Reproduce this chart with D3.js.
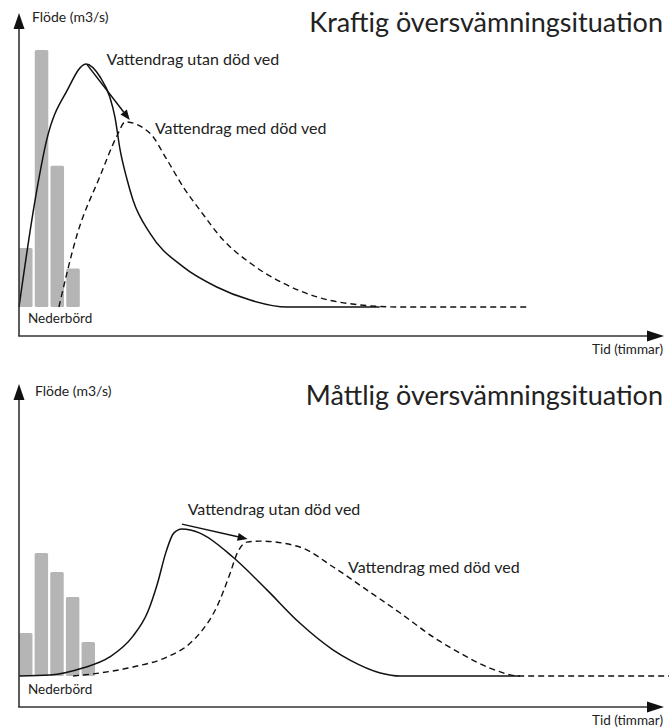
<!DOCTYPE html>
<html>
<head>
<meta charset="utf-8">
<script src="https://cdn.jsdelivr.net/npm/d3@7"></script>
<style>
  body { margin: 0; background: #fff; }
  text { font-family: Lato, "Open Sans", sans-serif; fill: #222; }
</style>
</head>
<body>
<div id="chart"></div>
<script>
// Precipitation bars (relative units), one per hour
const rainStrong = [23, 100, 55, 15];
const rainModerate = [16.7, 47.9, 40.5, 30.7, 13.2];

// Flow curves, [time, flow] in relative units
const strongWithout = [[0,0],[2.5,41.6],[4.3,65],[7.5,84.4],[10.4,94.6],[12.6,89.5],[14.1,81.7],[14.9,73.9],[15.7,61.1],[16.8,49.4],[17.7,41.6],[20.3,28.8],[25.5,15.6],[30.7,7.8],[35.9,2.7],[41.6,0],[56,0]];
const strongWith = [[6.2,0],[9.0,28],[12.6,51],[15.2,66.5],[16.5,72.0],[20.3,67.7],[23.0,57.2],[25.5,46.7],[28.1,37.7],[31.7,26.1],[35.9,17.1],[41.0,9.3],[46.3,3.9],[53.0,0.8],[59.2,0],[79.3,0]];
const modWithout = [[0,0],[4.8,0.4],[9.9,3.1],[14.1,7.4],[17.7,15.5],[20.0,25],[21.5,36],[22.8,48],[24.0,55.5],[25.3,57.2],[28.1,55.6],[33.2,46.3],[38.5,33.5],[43.6,20.6],[48.8,10.1],[51.4,6.2],[56.1,1.2],[59.2,0],[77.8,0]];
const modWith = [[8.4,0],[12.6,1.2],[17.7,3.5],[23.0,7.4],[26.6,12.8],[28.1,16.7],[30.7,26.8],[32.8,40.1],[33.9,47.9],[35.4,52.1],[37.4,52.5],[43.6,50.2],[48.8,42.4],[54.0,33.5],[59.2,24.5],[64.3,15.2],[68.5,8.9],[73.1,3.1],[77.8,0],[101,0]];

// Annotation arrows [from, to] in data units
const strongArrow = [[10.6, 94.2], [17.2, 72.8]];
const modArrow = [[25.3, 59.1], [35.5, 53.3]];

const titles = ["Kraftig översvämningsituation", "Måttlig översvämningsituation"];
const yLabel = "Flöde (m3/s)";
const xLabel = "Tid (timmar)";
const rainLabel = "Nederbörd";
const labelWithout = "Vattendrag utan död ved";
const labelWith = "Vattendrag med död ved";

const W = 669, H = 728;
const svg = d3.select("#chart").append("svg")
    .attr("width", W).attr("height", H);

// x scale shared by both panels
const x = d3.scaleLinear().domain([0, 100]).range([19, 663]);

const panels = [
    { rain: rainStrong, without: strongWithout, withDead: strongWith, arrow: strongArrow,
      title: titles[0], zeroY: 307, axisY: 336, topY: 13, titleY: 32, yLabX: 32, yLabY: 22,
      withoutLab: [13.6, 94], withLab: [21.1, 67.5], rainLabY: 323, xLabY: 354 },
    { rain: rainModerate, without: modWithout, withDead: modWith, arrow: modArrow,
      title: titles[1], zeroY: 676, axisY: 707, topY: 384, titleY: 405, yLabX: 35, yLabY: 396,
      withoutLab: [26.2, 62.6], withLab: [51.1, 40.1], rainLabY: 694, xLabY: 725 }
];

panels.forEach(p => {
    const g = svg.append("g");

    const y = d3.scaleLinear().domain([0, 100]).range([p.zeroY, p.zeroY - 257]);

    // Rain bars
    const band = d3.scaleBand()
        .domain(d3.range(p.rain.length))
        .range([19, 19 + 15.2 * p.rain.length])
        .paddingInner(0.14);

    g.selectAll(".bar")
        .data(p.rain)
        .enter()
        .append("rect")
        .attr("x", (d, i) => band(i))
        .attr("y", d => y(d))
        .attr("width", band.bandwidth())
        .attr("height", d => y(0) - y(d))
        .attr("rx", 1.5)
        .attr("fill", "#b5b5b5");

    const line = d3.line()
        .x(d => x(d[0]))
        .y(d => y(d[1]))
        .curve(d3.curveMonotoneX);

    g.append("path")
        .attr("d", line(p.withDead))
        .attr("fill", "none")
        .attr("stroke", "#111")
        .attr("stroke-width", 1.4)
        .attr("stroke-dasharray", "6,4");

    g.append("path")
        .attr("d", line(p.without))
        .attr("fill", "none")
        .attr("stroke", "#111")
        .attr("stroke-width", 1.5);

    // Annotation arrow
    const a0 = [x(p.arrow[0][0]), y(p.arrow[0][1])];
    const a1 = [x(p.arrow[1][0]), y(p.arrow[1][1])];
    const ang = Math.atan2(a1[1] - a0[1], a1[0] - a0[0]);
    const hl = 10, hw = 4;
    const back = [a1[0] - hl * Math.cos(ang), a1[1] - hl * Math.sin(ang)];
    g.append("line")
        .attr("x1", a0[0]).attr("y1", a0[1])
        .attr("x2", back[0]).attr("y2", back[1])
        .attr("stroke", "#111").attr("stroke-width", 1.5);
    g.append("path")
        .attr("d", `M${a1[0]},${a1[1]}L${back[0] - hw * Math.sin(ang)},${back[1] + hw * Math.cos(ang)}L${back[0] + hw * Math.sin(ang)},${back[1] - hw * Math.cos(ang)}Z`)
        .attr("fill", "#111");

    // Axes with arrow heads
    g.append("line")
        .attr("x1", 19).attr("y1", p.axisY)
        .attr("x2", 19).attr("y2", p.topY + 12)
        .attr("stroke", "#333").attr("stroke-width", 1.6);
    g.append("path")
        .attr("d", `M19,${p.topY}L13.5,${p.topY + 16}L24.5,${p.topY + 16}Z`)
        .attr("fill", "#111");
    g.append("line")
        .attr("x1", 18.2).attr("y1", p.axisY)
        .attr("x2", 652).attr("y2", p.axisY)
        .attr("stroke", "#333").attr("stroke-width", 1.6);
    g.append("path")
        .attr("d", `M664,${p.axisY}L647,${p.axisY - 5.5}L647,${p.axisY + 5.5}Z`)
        .attr("fill", "#111");

    // Texts
    g.append("text")
        .attr("x", 663).attr("y", p.titleY)
        .style("text-anchor", "end")
        .style("font-size", "27px")
        .text(p.title);

    g.append("text")
        .attr("x", p.yLabX).attr("y", p.yLabY)
        .style("font-size", "14px")
        .text(yLabel);

    g.append("text")
        .attr("x", 663).attr("y", p.xLabY)
        .style("text-anchor", "end")
        .style("font-size", "13.5px")
        .text(xLabel);

    g.append("text")
        .attr("x", 28).attr("y", p.rainLabY)
        .style("font-size", "13.5px")
        .text(rainLabel);

    g.append("text")
        .attr("x", x(p.withoutLab[0])).attr("y", y(p.withoutLab[1]))
        .style("font-size", "16px")
        .text(labelWithout);

    g.append("text")
        .attr("x", x(p.withLab[0])).attr("y", y(p.withLab[1]))
        .style("font-size", "16px")
        .text(labelWith);
});
</script>
</body>
</html>
